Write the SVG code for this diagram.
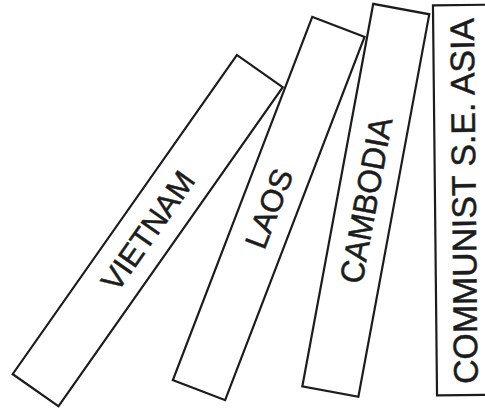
<svg xmlns="http://www.w3.org/2000/svg" width="485" height="408" viewBox="0 0 485 408">
<style>
.dom{fill:#ffffff;stroke:#1c1c1c;stroke-width:2.2;stroke-linejoin:miter}
.lbl{font-family:"Liberation Sans",Arial,sans-serif;fill:#1c1c1c;stroke:#1c1c1c;stroke-width:0.5;text-anchor:middle}
</style>
<rect width="485" height="408" fill="#ffffff"/>
<g id="communist">
<g transform="translate(463.5,200) rotate(-0.6)">
<rect class="dom" x="-28.5" y="-195" width="57" height="390"/>
<text class="lbl" transform="rotate(-90)" x="-1" y="12.2" font-size="34" textLength="366" lengthAdjust="spacingAndGlyphs">COMMUNIST S.E. ASIA</text>
</g>
</g>
<g id="cambodia">
<g transform="translate(365.8,200.3) rotate(10.5)">
<rect class="dom" x="-28.5" y="-194.5" width="57" height="389"/>
<text class="lbl" transform="rotate(-90)" x="0" y="11.6" font-size="33" textLength="168" lengthAdjust="spacingAndGlyphs">CAMBODIA</text>
</g>
</g>
<g id="laos">
<g transform="translate(268.7,208.5) rotate(21)">
<rect class="dom" x="-28" y="-194.5" width="56" height="389"/>
<text class="lbl" transform="rotate(-90)" x="0" y="11" font-size="31">LAOS</text>
</g>
</g>
<g id="vietnam">
<g transform="translate(147.7,230.7) rotate(35.1)">
<rect class="dom" x="-28" y="-195" width="56" height="390"/>
<text class="lbl" transform="rotate(-90)" x="0" y="11" font-size="31">VIETNAM</text>
</g>
</g>
<g id="connectors"/>
</svg>
